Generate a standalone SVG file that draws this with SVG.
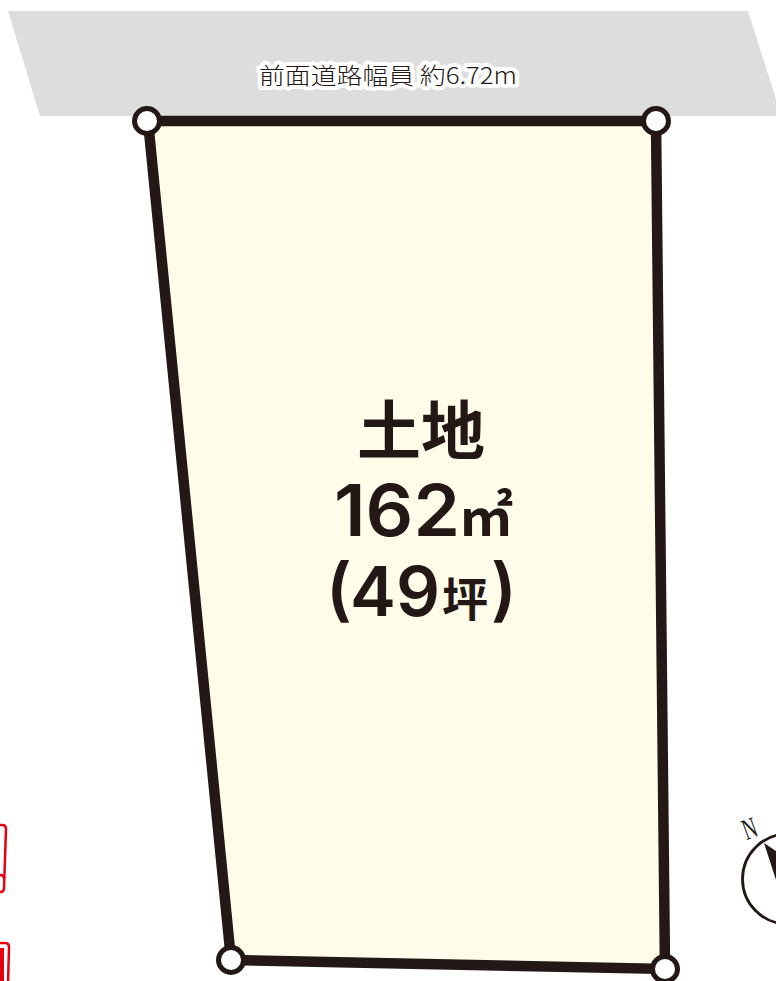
<svg xmlns="http://www.w3.org/2000/svg" width="776" height="981" viewBox="0 0 776 981">
<style>
text{fill:#231815;font-family:"Noto Sans CJK JP","Noto Sans",sans-serif}
.cjk{font-weight:700}
.num{font-family:Inter,"Liberation Sans",sans-serif;font-weight:600}
.v{fill:#fff;stroke:#231815;stroke-width:5}
.red{fill:none;stroke:#e60012}
</style>
<rect width="776" height="981" fill="#fff"/>
<g id="road"><polygon points="8,11 748,11 776,99 776,116 40,116" fill="#dcdddd"/>
<text x="259" y="84" font-size="23" font-weight="300" textLength="258" lengthAdjust="spacingAndGlyphs" stroke="#fff" stroke-width="8" stroke-linejoin="round" paint-order="stroke">前面道路幅員 約6.72m</text></g>
<g id="land"><polygon points="148,121 656,121 665,969 231,960" fill="#fffce9" stroke="#231815" stroke-width="10.5" stroke-linejoin="miter"/>
<text class="cjk" x="357" y="454" font-size="64" font-weight="500">土地</text>
<text class="num" x="334" y="536" font-size="71" textLength="126" lengthAdjust="spacingAndGlyphs">162</text>
<text class="cjk" x="459" y="536" font-size="54" font-weight="500">㎡</text>
<text class="num" x="326" y="613" font-size="69">(</text>
<text class="num" x="350" y="616" font-size="69" textLength="90" lengthAdjust="spacingAndGlyphs">49</text>
<text class="cjk" x="442" y="616" font-size="46" font-weight="500">坪</text>
<text class="num" x="491" y="613" font-size="69">)</text></g>
<g id="vertices"><circle class="v" cx="147" cy="121" r="12.5"/><circle class="v" cx="656" cy="121" r="12.5"/><circle class="v" cx="231" cy="960" r="12.5"/><circle class="v" cx="665" cy="969" r="12.5"/></g>
<g id="marks">
<path class="red" stroke-width="2.5" d="M-5,825H2Q6,825 6,829L4,888Q4,892 0,892H-5"/>
<path class="red" stroke-width="2.5" d="M-5,875H0Q4,875 4,879"/>
<path class="red" stroke-width="2.5" d="M-5,943H5Q9,943 9,947L8,985"/>
<rect x="-3" y="948" width="7" height="36" fill="#e60012"/>
</g>
<g id="compass">
<circle cx="787.5" cy="879" r="45" fill="none" stroke="#231815" stroke-width="2.8"/>
<path d="M764,843L776,851V880Z" fill="#231815"/>
<text font-size="24" text-anchor="middle" style="font-family:'Liberation Serif',serif" transform="translate(753 838) rotate(-20) scale(0.8 1.25)">N</text>
</g>
</svg>
